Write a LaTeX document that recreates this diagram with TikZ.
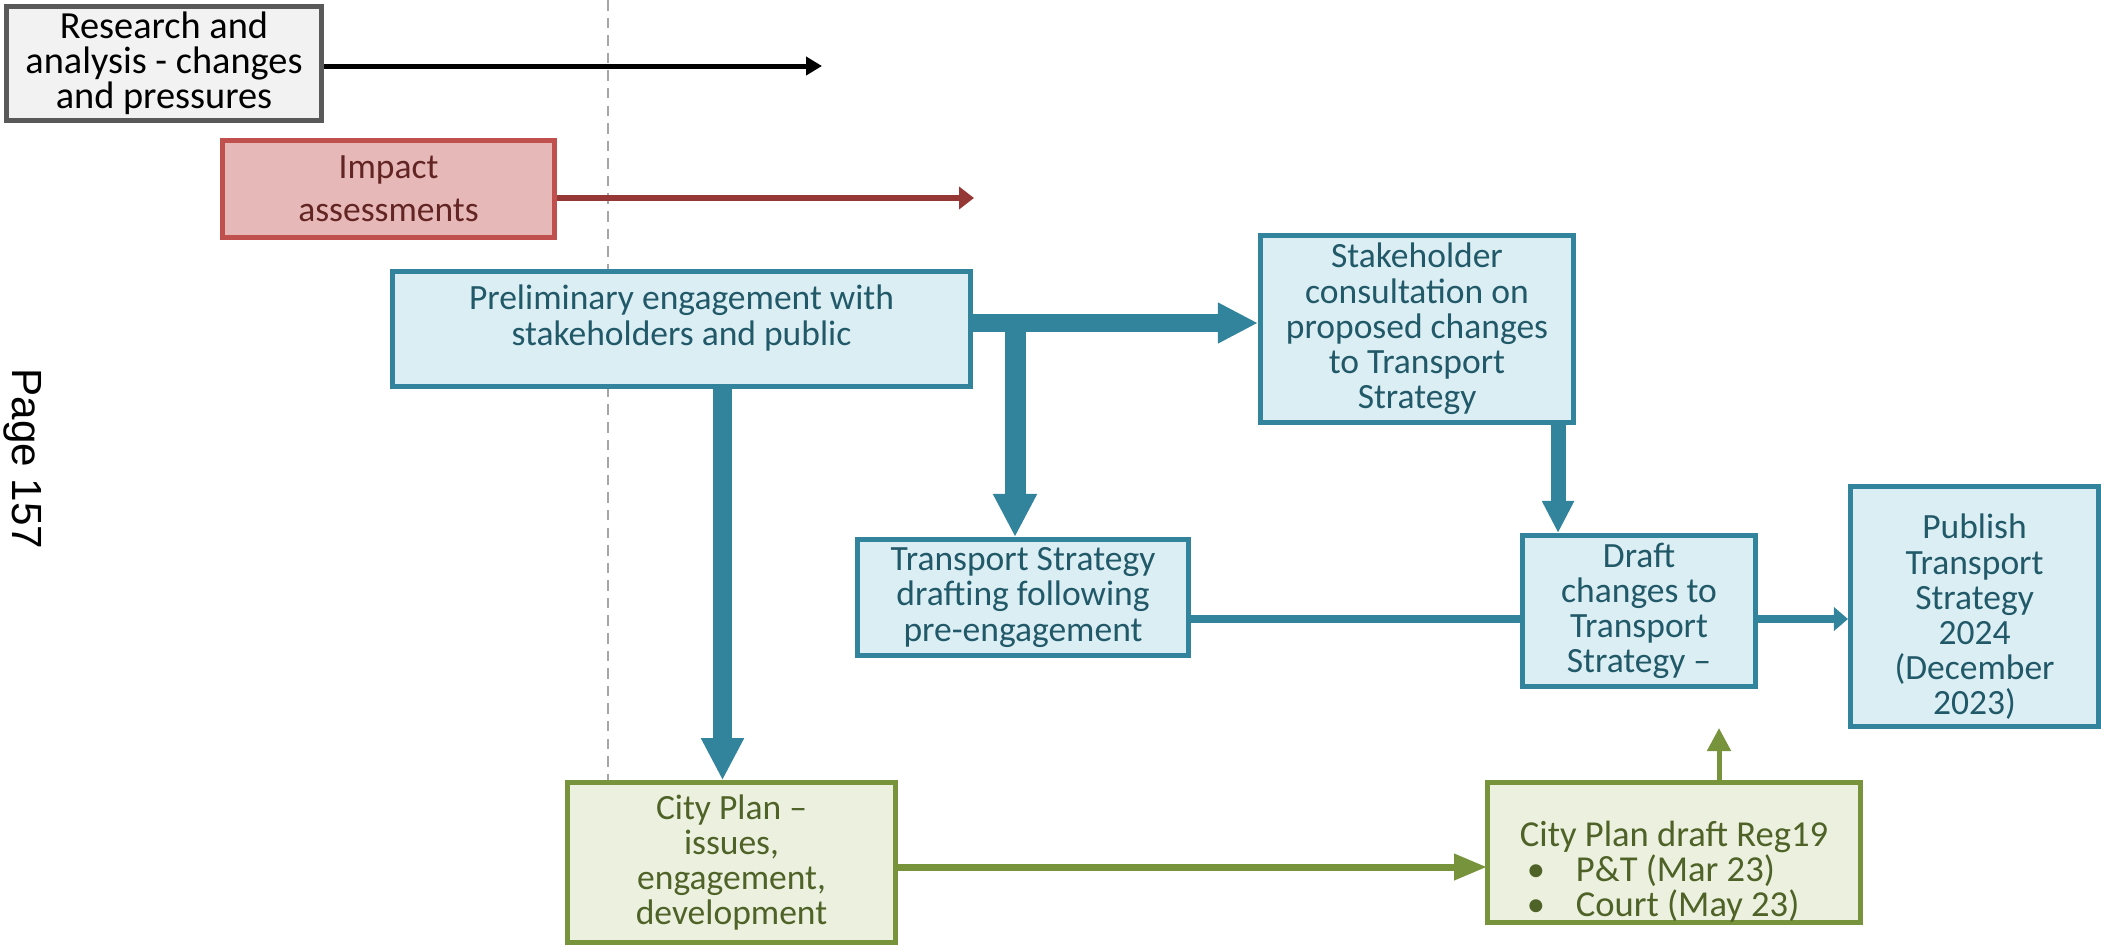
\documentclass[tikz,border=0pt]{standalone}
\usepackage{fontspec}
\setmainfont{Carlito}
\newfontfamily\pagefont{Liberation Sans}
\usetikzlibrary{arrows.meta}
\definecolor{tealline}{HTML}{31849B}
\definecolor{tealfill}{HTML}{DBEEF4}
\definecolor{tealtext}{HTML}{215968}
\definecolor{redline}{HTML}{C0504D}
\definecolor{redfill}{HTML}{E6B9B8}
\definecolor{redtext}{HTML}{632523}
\definecolor{redarrow}{HTML}{953735}
\definecolor{greenline}{HTML}{77933C}
\definecolor{greenfill}{HTML}{EBF1DE}
\definecolor{greentext}{HTML}{4F6228}
\definecolor{greyline}{HTML}{595959}
\definecolor{greyfill}{HTML}{F2F2F2}
\definecolor{guideline}{HTML}{A6A6A6}
\begin{document}
\begin{tikzpicture}%
	[x={(0.01cm, 0cm)},
	y={(0cm, -0.01cm)},
	font=\fontsize{10.1}{10}\selectfont,
	box/.style={line width=1.4pt, align=center, inner sep=0pt},
	tealbox/.style={box, draw=tealline, fill=tealfill, text=tealtext},
	redbox/.style={box, draw=redline, fill=redfill, text=redtext},
	greenbox/.style={box, draw=greenline, fill=greenfill, text=greentext},
	greybox/.style={box, draw=greyline, fill=greyfill, text=black},
	flow/.style={draw=tealline},
	plan/.style={draw=greenline},
	guide/.style={draw=guideline, line width=0.6pt, dash pattern=on 3pt off 2pt}]
%
%% Frame of the page
\useasboundingbox (0,0) rectangle (2101,945);
%
%% Free ends and bends of the arrows
%%
\coordinate (resend) at (822,66);
\coordinate (impend) at (974,198);
\coordinate (fork) at (970,323);
\coordinate (branch) at (1015,314);
\coordinate (link) at (1522,619);
\coordinate (planlink) at (1487,867);
\coordinate (regtip) at (1719,728);
%%
%% Date line
%%
\draw[guide] (608,0) -- (608,780);
%%
%% The boxes
%%
\node[greybox, minimum width=3.15cm, minimum height=1.14cm, font=\fontsize{10.9}{10}\selectfont] (res) at (164,63.5)
	{Research and\\analysis - changes\\and pressures};
\node[redbox, minimum width=3.32cm, minimum height=0.97cm] (imp) at (388.5,189)
	{Impact\\[0.8mm]assessments};
\node[tealbox, minimum width=5.78cm, minimum height=1.15cm] (prelim) at (681.5,329) {};
\node[text=tealtext, align=center, inner sep=0pt] (prelimtxt) at (681.5,318)
	{Preliminary engagement with\\stakeholders and public};
\node[tealbox, minimum width=3.13cm, minimum height=1.87cm] (stake) at (1417,329)
	{Stakeholder\\consultation on\\proposed changes\\to Transport\\Strategy};
\node[tealbox, minimum width=3.31cm, minimum height=1.16cm] (tsd) at (1023,597.5)
	{Transport Strategy\\drafting following\\pre-engagement};
\node[tealbox, minimum width=2.33cm, minimum height=1.51cm] (draft) at (1639,611)
	{Draft\\changes to\\Transport\\Strategy --};
\node[tealbox, minimum width=2.48cm, minimum height=2.40cm] (publ) at (1974.5,606.5) {};
\node[text=tealtext, align=center, inner sep=0pt] (publtxt) at (1974.5,617)
	{Publish\\Transport\\Strategy\\2024\\(December\\2023)};
\node[greenbox, minimum width=3.28cm, minimum height=1.60cm] (city) at (731.5,862.75)
	{City Plan --\\issues,\\engagement,\\development};
\node[greenbox, minimum width=3.73cm, minimum height=1.40cm] (reg) at (1674,852.5) {};
\node[text=greentext, align=left, inner sep=0pt, font=\fontsize{10.4}{10}\selectfont] (regtxt) at (1674,872)
	{City Plan draft Reg19\\
	\hspace*{0.7mm}\makebox[4.9mm][l]{\textbullet}P\&T (Mar 23)\\
	\hspace*{0.7mm}\makebox[4.9mm][l]{\textbullet}Court (May 23)};
%%
%% Page number
%%
\node[rotate=-90, inner sep=0pt, font=\pagefont\fontsize{12}{12}\selectfont] (page) at (23,459) {Page 157};
%%
%% The arrows
%%
\draw[line width=0.05cm, -{Triangle[length=0.16cm, width=0.18cm]}] (res.east |- resend) -- (resend);
\draw[draw=redarrow, line width=0.06cm, -{Triangle[length=0.15cm, width=0.22cm]}, redarrow] (imp.east |- impend) -- (impend);
\draw[flow, line width=0.18cm, -{Triangle[length=0.40cm, width=0.38cm]}, tealline] (fork) -- (fork -| stake.west);
\draw[flow, line width=0.21cm, -{Triangle[length=0.43cm, width=0.41cm]}, tealline] (branch) -- (branch |- tsd.north);
\draw[flow, line width=0.19cm, -{Triangle[length=0.42cm, width=0.40cm]}, tealline] ([xshift=-0.09cm]city.north |- prelim.south) -- ([xshift=-0.09cm]city.north);
\draw[flow, line width=0.15cm, -{Triangle[length=0.32cm, width=0.30cm]}, tealline] ([xshift=-1.8mm]stake.south east) -- ([xshift=-1.8mm]stake.south east |- draft.north);
\draw[flow, line width=0.08cm] (tsd.east |- link) -- (link);
\draw[flow, line width=0.08cm, -{Triangle[length=0.14cm, width=0.23cm]}, tealline] (link -| draft.east) -- (link -| publ.west);
\draw[plan, line width=0.07cm, -{Triangle[length=0.33cm, width=0.25cm]}, greenline] (city.east |- planlink) -- (planlink);
\draw[plan, line width=0.05cm, -{Triangle[length=0.23cm, width=0.23cm]}, greenline] (regtip |- reg.north) -- (regtip);
%%
\end{tikzpicture}
\end{document}
